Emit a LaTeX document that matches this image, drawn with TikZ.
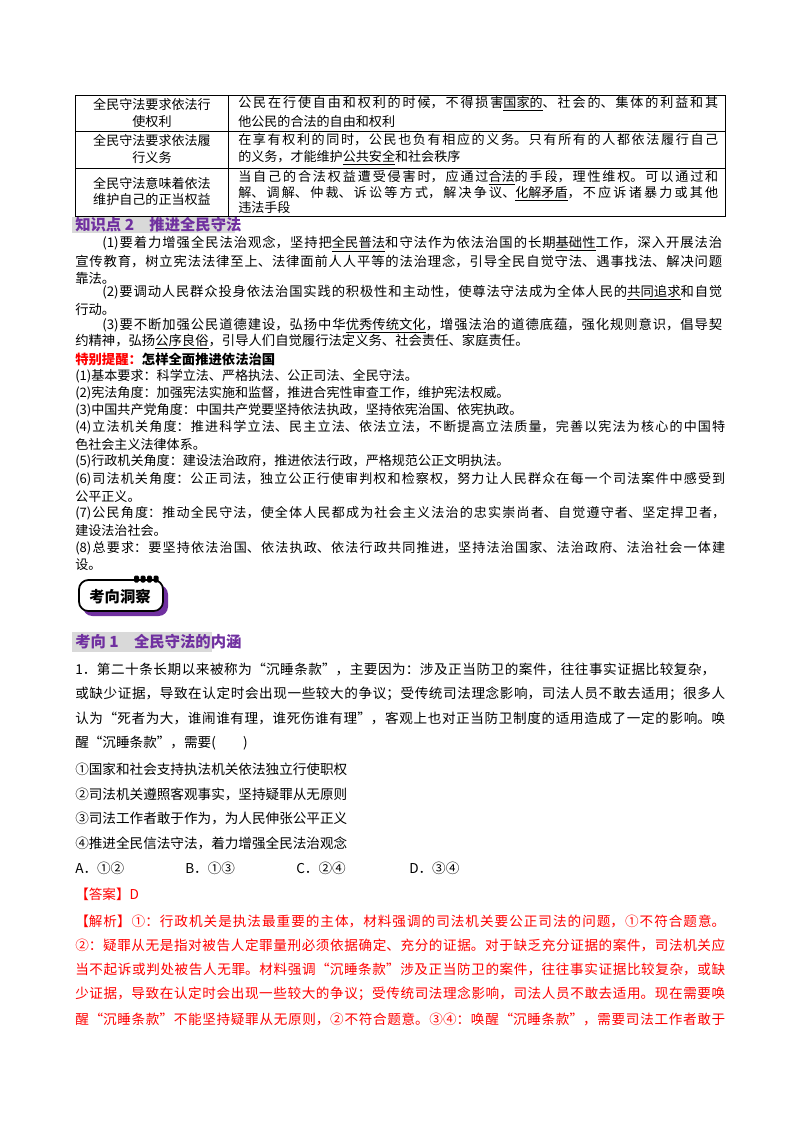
\documentclass[tikz,border=0pt]{standalone}
\usepackage{fontspec}
\setmainfont{Noto Sans CJK SC}
\XeTeXlinebreaklocale "zh"
\XeTeXlinebreakskip=0pt plus 4pt
\definecolor{hpurple}{HTML}{7030A0}
\definecolor{hgray}{HTML}{D9D9D9}
\newcommand\jl[2]{\parbox{\dimexpr#1pt*3/4\relax}{\parfillskip=0pt\relax\noindent #2}}
\newcommand\ul[1]{\underline{#1}}
\tikzset{
 txt/.style={inner sep=0pt,anchor=west,font=\fontsize{10}{12}\selectfont},
 tab/.style={txt,font=\fontsize{9.8}{12}\selectfont},
 sp/.style={txt,font=\fontsize{9.8}{12}\selectfont},
 q/.style={txt,font=\fontsize{10.2}{13}\selectfont},
 ans/.style={q,text=red},
 head/.style={inner sep=0pt,anchor=west,text=hpurple,font=\fontsize{11.5}{13}\bfseries\selectfont},
 grid/.style={line width=0.6pt,black}
}
\begin{document}
\begin{tikzpicture}[x=0.75pt,y=-0.75pt]
\useasboundingbox[fill=white] (0,0) rectangle (800,1132);
% table
\draw[grid] (75,95) rectangle (725,216);
\draw[grid] (75,131) -- (725,131);
\draw[grid] (75,168) -- (725,168);
\draw[grid] (228,95) -- (228,216);
\node[tab,anchor=center] (t1a) at (152,104) {全民守法要求依法行};
\node[tab,anchor=center] (t1b) at (152,122) {使权利};
\node[tab,anchor=center] (t2a) at (152,140) {全民守法要求依法履};
\node[tab,anchor=center] (t2b) at (152,158) {行义务};
\node[tab,anchor=center] (t3a) at (152,183) {全民守法意味着依法};
\node[tab,anchor=center] (t3b) at (152,200) {维护自己的正当权益};
\node[tab] (r1a) at (238,104) {\jl{480}{公民在行使自由和权利的时候，不得损害\ul{国家的}、社会的、集体的利益和其}};
\node[tab] (r1b) at (238,122) {他公民的合法的自由和权利};
\node[tab] (r2a) at (238,140) {\jl{480}{在享有权利的同时，公民也负有相应的义务。只有所有的人都依法履行自己}};
\node[tab] (r2b) at (238,158) {的义务，才能维护\ul{公共安全}和社会秩序};
\node[tab] (r3a) at (238,178) {\jl{480}{当自己的合法权益遭受侵害时，应通过\ul{合法}的手段，理性维权。可以通过和}};
\node[tab] (r3b) at (238,194) {\jl{480}{解、调解、仲裁、诉讼等方式，解决争议、\ul{化解矛盾}，不应诉诸暴力或其他}};
\node[tab] (r3c) at (238,208) {违法手段};
% knowledge point 2
\fill[hgray] (72,216.5) rectangle (235,233);
\node[head] (h1) at (75,224.5) {知识点 2\quad 推进全民守法};
\node[txt] (k1) at (102,244) {\jl{620}{(1)要着力增强全民法治观念，坚持把\ul{全民普法}和守法作为依法治国的长期\ul{基础性}工作，深入开展法治}};
\node[txt] (k2) at (75,261) {\jl{647}{宣传教育，树立宪法法律至上、法律面前人人平等的法治理念，引导全民自觉守法、遇事找法、解决问题}};
\node[txt] (k3) at (75,278) {靠法。};
\node[txt] (k4) at (102,293) {\jl{620}{(2)要调动人民群众投身依法治国实践的积极性和主动性，使尊法守法成为全体人民的\ul{共同追求}和自觉}};
\node[txt] (k5) at (75,309) {行动。};
\node[txt] (k6) at (102,326) {\jl{620}{(3)要不断加强公民道德建设，弘扬中华\ul{优秀传统文化}，增强法治的道德底蕴，强化规则意识，倡导契}};
\node[txt] (k7) at (75,342) {约精神，弘扬\ul{公序良俗}，引导人们自觉履行法定义务、社会责任、家庭责任。};
% special reminder
\node[sp,font=\fontsize{10}{12}\bfseries\selectfont] (s0) at (75,359) {\textcolor{red}{特别提醒：}怎样全面推进依法治国};
\node[sp] (s1) at (75,376) {(1)基本要求：科学立法、严格执法、公正司法、全民守法。};
\node[sp] (s2) at (75,393) {(2)宪法角度：加强宪法实施和监督，推进合宪性审查工作，维护宪法权威。};
\node[sp] (s3) at (75,410) {(3)中国共产党角度：中国共产党要坚持依法执政，坚持依宪治国、依宪执政。};
\node[sp] (s4) at (75,427) {\jl{650}{(4)立法机关角度：推进科学立法、民主立法、依法立法，不断提高立法质量，完善以宪法为核心的中国特}};
\node[sp] (s5) at (75,444) {色社会主义法律体系。};
\node[sp] (s6) at (75,461) {(5)行政机关角度：建设法治政府，推进依法行政，严格规范公正文明执法。};
\node[sp] (s7) at (75,479) {\jl{650}{(6)司法机关角度：公正司法，独立公正行使审判权和检察权，努力让人民群众在每一个司法案件中感受到}};
\node[sp] (s8) at (75,496) {公平正义。};
\node[sp] (s9) at (75,513) {\jl{650}{(7)公民角度：推动全民守法，使全体人民都成为社会主义法治的忠实崇尚者、自觉遵守者、坚定捍卫者，}};
\node[sp] (s10) at (75,531) {建设法治社会。};
\node[sp] (s11) at (75,548) {\jl{650}{(8)总要求：要坚持依法治国、依法执政、依法行政共同推进，坚持法治国家、法治政府、法治社会一体建}};
\node[sp] (s12) at (75,565) {设。};
% badge
\fill[hpurple,rounded corners=7pt] (83,585) rectangle (168,616);
\draw[black,line width=1.3pt,fill=white,rounded corners=7pt] (79,580) rectangle (163,611);
\foreach \i in {0,1,2,3}{\fill[black,rounded corners=1pt] (134+\i*6.5,575.5) rectangle (139+\i*6.5,582.5);}
\node[inner sep=0pt,font=\fontsize{11.5}{13}\bfseries\selectfont] (badge) at (120,597) {考向洞察};
% direction 1
\fill[hgray] (72,632) rectangle (212,652);
\node[head] (h2) at (75,642) {考向 1\quad 全民守法的内涵};
\node[q] (q1) at (75,669) {\jl{640}{1．第二十条长期以来被称为“沉睡条款”，主要因为：涉及正当防卫的案件，往往事实证据比较复杂，}};
\node[q] (q2) at (75,694) {\jl{650}{或缺少证据，导致在认定时会出现一些较大的争议；受传统司法理念影响，司法人员不敢去适用；很多人}};
\node[q] (q3) at (75,718) {\jl{650}{认为“死者为大，谁闹谁有理，谁死伤谁有理”，客观上也对正当防卫制度的适用造成了一定的影响。唤}};
\node[q] (q4) at (75,743) {醒“沉睡条款”，需要(\qquad)};
\node[q] (o1) at (75,769) {①国家和社会支持执法机关依法独立行使职权};
\node[q] (o2) at (75,794) {②司法机关遵照客观事实，坚持疑罪从无原则};
\node[q] (o3) at (75,818) {③司法工作者敢于作为，为人民伸张公平正义};
\node[q] (o4) at (75,843) {④推进全民信法守法，着力增强全民法治观念};
\node[q] (ca) at (75,868) {A．①②};
\node[q] (cb) at (185,868) {B．①③};
\node[q] (cc) at (296,868) {C．②④};
\node[q] (cd) at (409,868) {D．③④};
\node[ans] (a0) at (75,894) {【答案】D};
\node[ans] (a1) at (75,921) {\jl{650}{【解析】①：行政机关是执法最重要的主体，材料强调的司法机关要公正司法的问题，①不符合题意。}};
\node[ans] (a2) at (75,945) {\jl{650}{②：疑罪从无是指对被告人定罪量刑必须依据确定、充分的证据。对于缺乏充分证据的案件，司法机关应}};
\node[ans] (a3) at (75,969) {\jl{650}{当不起诉或判处被告人无罪。材料强调“沉睡条款”涉及正当防卫的案件，往往事实证据比较复杂，或缺}};
\node[ans] (a4) at (75,994) {\jl{650}{少证据，导致在认定时会出现一些较大的争议；受传统司法理念影响，司法人员不敢去适用。现在需要唤}};
\node[ans] (a5) at (75,1019) {\jl{650}{醒“沉睡条款”不能坚持疑罪从无原则，②不符合题意。③④：唤醒“沉睡条款”，需要司法工作者敢于}};
\end{tikzpicture}
\end{document}
